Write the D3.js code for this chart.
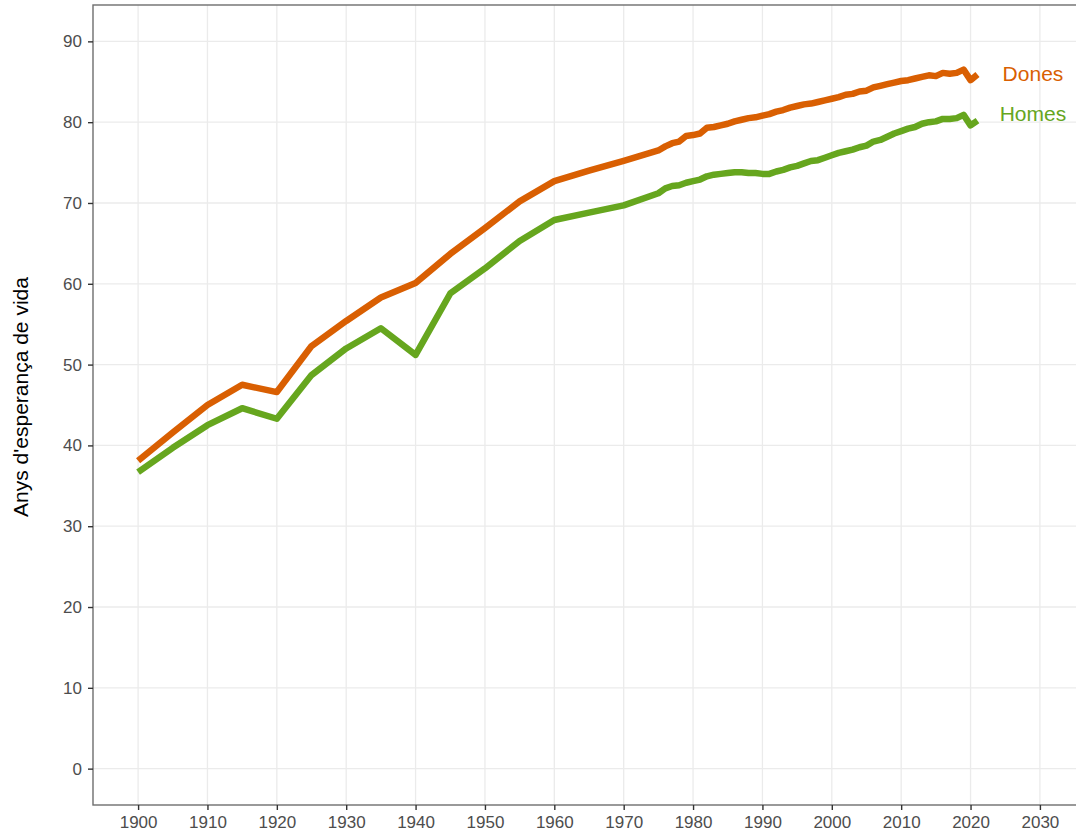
<!DOCTYPE html>
<html>
<head>
<meta charset="utf-8">
<script src="https://cdn.jsdelivr.net/npm/d3@7"></script>
<style>
  html, body { margin: 0; padding: 0; background: #fff; }
  svg { display: block; font-family: "Liberation Sans", Arial, sans-serif; }
</style>
</head>
<body>
<svg id="chart" width="1076" height="835"></svg>
<script>
// Data: life expectancy (years)
const years = [1900,1905,1910,1915,1920,1925,1930,1935,1940,1945,1950,1955,1960,1965,1970,1975,
  1976,1977,1978,1979,1980,1981,1982,1983,1984,1985,1986,1987,1988,1989,1990,1991,1992,1993,1994,
  1995,1996,1997,1998,1999,2000,2001,2002,2003,2004,2005,2006,2007,2008,2009,2010,2011,2012,2013,
  2014,2015,2016,2017,2018,2019,2020,2021];
const dones = [38.1,41.6,45.0,47.5,46.6,52.3,55.4,58.3,60.1,63.7,66.9,70.2,72.7,74.0,75.2,76.5,
  77.0,77.4,77.6,78.3,78.4,78.6,79.3,79.4,79.6,79.8,80.1,80.3,80.5,80.6,80.8,81.0,81.3,81.5,81.8,
  82.0,82.2,82.3,82.5,82.7,82.9,83.1,83.4,83.5,83.8,83.9,84.3,84.5,84.7,84.9,85.1,85.2,85.4,85.6,
  85.8,85.7,86.1,86.0,86.1,86.5,85.2,85.9];
const homes = [36.7,39.7,42.5,44.6,43.3,48.7,52.0,54.5,51.2,58.8,61.9,65.3,67.9,68.8,69.7,71.2,
  71.8,72.1,72.2,72.5,72.7,72.9,73.3,73.5,73.6,73.7,73.8,73.8,73.7,73.7,73.6,73.6,73.9,74.1,74.4,
  74.6,74.9,75.2,75.3,75.6,75.9,76.2,76.4,76.6,76.9,77.1,77.6,77.8,78.2,78.6,78.9,79.2,79.4,79.8,
  80.0,80.1,80.4,80.4,80.5,80.9,79.6,80.2];
const seriesNames = ["Dones", "Homes"];
const seriesColors = ["#D95F02", "#66A61E"];
const labelYear = [2029, 2029];
const labelValue = [86.0, 81.0];
const xTicks = [1900,1910,1920,1930,1940,1950,1960,1970,1980,1990,2000,2010,2020,2030];
const yTicks = [0,10,20,30,40,50,60,70,80,90];
const yTitle = "Anys d'esperança de vida";

(function () {
const svg = d3.select("#chart");
const pLeft = 93, pTop = 5, pBottom = 805, pRight = 1085;

const x = d3.scaleLinear().domain([1893.5, 2036.5]).range([pLeft, pRight]);
const y = d3.scaleLinear().domain([-4.5, 94.5]).range([pBottom, pTop]);

// Gridlines
const grid = svg.append("g");
grid.selectAll("line.gx").data(xTicks).join("line")
  .attr("x1", d => x(d)).attr("x2", d => x(d))
  .attr("y1", pTop).attr("y2", pBottom)
  .attr("stroke", "#ebebeb").attr("stroke-width", 1.3);
grid.selectAll("line.gy").data(yTicks).join("line")
  .attr("x1", pLeft).attr("x2", pRight)
  .attr("y1", d => y(d)).attr("y2", d => y(d))
  .attr("stroke", "#ebebeb").attr("stroke-width", 1.3);

// Lines
const series = [dones, homes];
const line = d3.line().x((d, i) => x(years[i])).y(d => y(d));
series.forEach((vals, k) => {
  svg.append("path")
    .datum(vals)
    .attr("d", line)
    .attr("fill", "none")
    .attr("stroke", seriesColors[k])
    .attr("stroke-width", 6.5)
    .attr("stroke-linejoin", "round")
    .attr("stroke-linecap", "butt");
});

// Labels at end
seriesNames.forEach((name, k) => {
  svg.append("text")
    .attr("x", x(labelYear[k]))
    .attr("y", y(labelValue[k]))
    .attr("dy", "0.35em")
    .attr("text-anchor", "middle")
    .attr("fill", seriesColors[k])
    .attr("font-size", 21)
    .text(name);
});

// Panel border
svg.append("rect")
  .attr("x", pLeft).attr("y", pTop)
  .attr("width", pRight - pLeft).attr("height", pBottom - pTop)
  .attr("fill", "none").attr("stroke", "#6e6e6e").attr("stroke-width", 1.4);

// Axes
const xAxis = d3.axisBottom(x).tickValues(xTicks).tickFormat(d3.format("d")).tickSize(5).tickPadding(6);
const gx = svg.append("g").attr("transform", `translate(0,${pBottom})`).call(xAxis);
gx.select(".domain").remove();
gx.selectAll(".tick line").attr("stroke", "#333").attr("stroke-width", 1.4);
gx.selectAll(".tick text").attr("fill", "#4d4d4d").attr("font-size", 17)
  .attr("font-family", "'Liberation Sans', Arial, sans-serif");

const yAxis = d3.axisLeft(y).tickValues(yTicks).tickSize(5).tickPadding(6);
const gy = svg.append("g").attr("transform", `translate(${pLeft},0)`).call(yAxis);
gy.select(".domain").remove();
gy.selectAll(".tick line").attr("stroke", "#333").attr("stroke-width", 1.4);
gy.selectAll(".tick text").attr("fill", "#4d4d4d").attr("font-size", 17)
  .attr("font-family", "'Liberation Sans', Arial, sans-serif");

// Y title
svg.append("text")
  .attr("transform", `translate(28,397) rotate(-90)`)
  .attr("text-anchor", "middle")
  .attr("fill", "#000")
  .attr("font-size", 21)
  .text(yTitle);
})();
</script>
</body>
</html>
